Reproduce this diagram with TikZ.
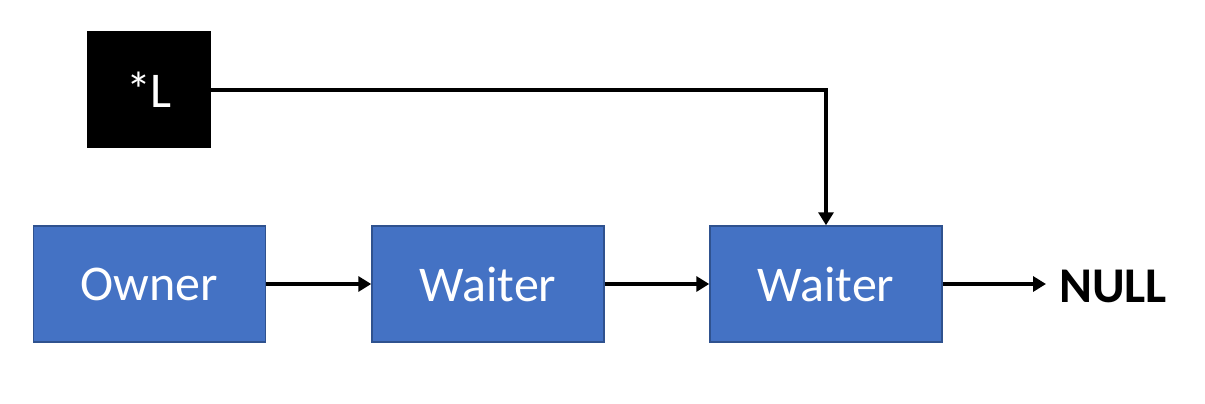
\documentclass[tikz,border=0pt]{standalone}
\usepackage{fontspec}
\setmainfont{Carlito}
\usetikzlibrary{arrows.meta}
\definecolor{boxblue}{HTML}{4472C4}
\definecolor{boxedge}{HTML}{2F528F}
\begin{document}
\begin{tikzpicture}[x=1pt,y=-1pt,
  blk/.style={draw=boxedge,line width=1.5pt,fill=boxblue,text=white,minimum width=232pt,minimum height=116pt,inner sep=0pt,font=\fontsize{50}{56}\selectfont},
  ptr/.style={fill=black,text=white,minimum width=124pt,minimum height=117pt,inner sep=0pt,font=\fontsize{50}{56}\selectfont},
  conn/.style={line width=3.5pt,-{Triangle[length=13pt,width=15pt]}}]
\useasboundingbox (0,0) rectangle (1205,404);
\node[blk] (owner) at (149.5,284) {Owner};
\node[blk] (w1) at (488,284) {Waiter};
\node[blk] (w2) at (826,284) {Waiter};
\node[ptr] (L) at (149,89.5) {*L};
\node[anchor=west,inner sep=0pt,font=\fontsize{50}{56}\selectfont\bfseries] (null) at (1059,286) {NULL};
\draw[conn] (owner.east) -- (w1.west);
\draw[conn] (w1.east) -- (w2.west);
\draw[conn,shorten >=13pt] (w2.east) -- (null.west |- w2.east);
\draw[conn] (L.east |- 0,90) -| (w2.north);
\end{tikzpicture}
\end{document}
